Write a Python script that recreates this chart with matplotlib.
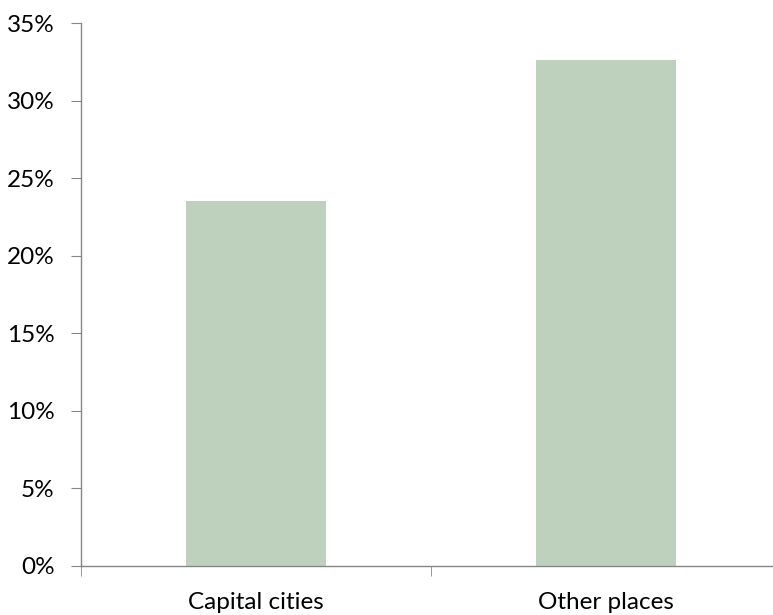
import numpy as np
import matplotlib.pyplot as plt
from matplotlib.ticker import FuncFormatter, FixedLocator

categories = ["Capital cities", "Other places"]
shares = [23.5, 32.6]
y_ticks = [0, 5, 10, 15, 20, 25, 30, 35]

plt.rcParams['font.family'] = ['Lato', 'DejaVu Sans']

fig = plt.figure(figsize=(7.73, 6.15), dpi=100)
ax = fig.add_axes([81 / 773, 49 / 615, 700 / 773, 543 / 615])

x = np.arange(len(categories))
ax.bar(x, shares, width=0.4, color="#bed1bd")

ax.set_xlim(-0.5, 1.5)
ax.set_ylim(0, 35)
ax.set_yticks(y_ticks)
ax.yaxis.set_major_formatter(FuncFormatter(lambda v, p: f"{v:.0f}%"))
ax.set_xticks(x)
ax.set_xticklabels(categories)
ax.xaxis.set_minor_locator(FixedLocator([-0.5, 0.5, 1.5]))

for side in ["top", "right"]:
    ax.spines[side].set_visible(False)
for side in ["left", "bottom"]:
    ax.spines[side].set_color("#868686")
    ax.spines[side].set_linewidth(1.0)

ax.tick_params(axis="y", length=7, color="#868686", labelsize=17.5, pad=12)
ax.tick_params(axis="x", which="major", length=0, labelsize=17.5, pad=19)
ax.tick_params(axis="x", which="minor", length=7, color="#868686")

fig.savefig("out.png", dpi=100)
